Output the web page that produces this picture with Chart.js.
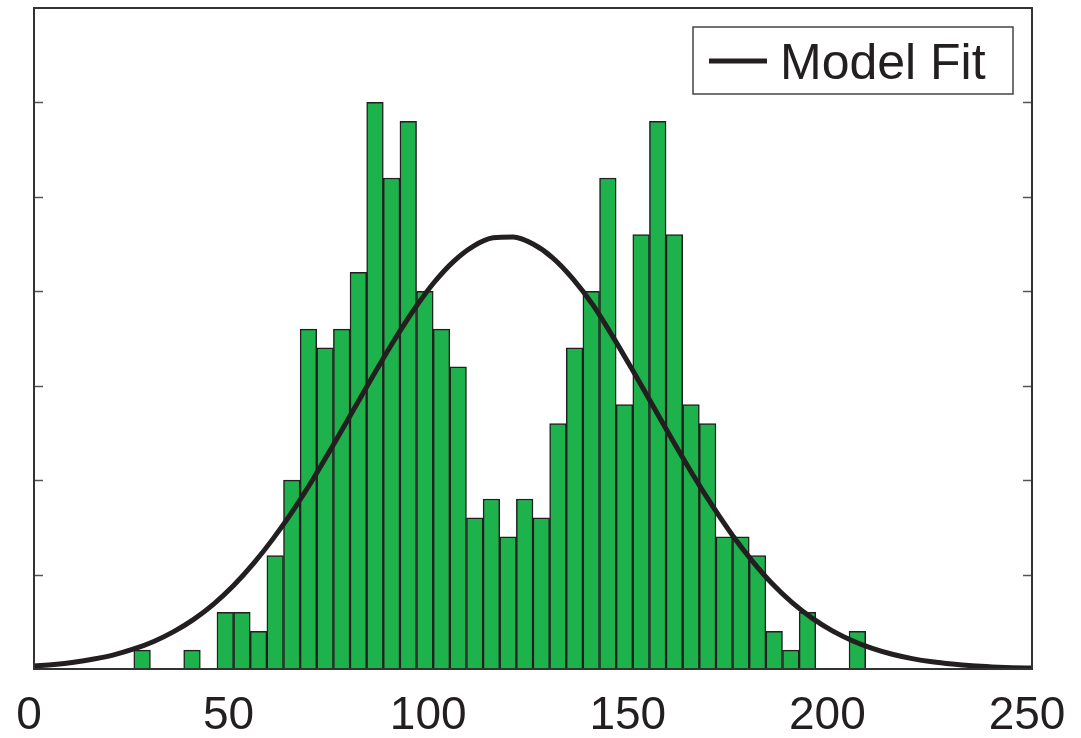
<!DOCTYPE html>
<html>
<head>
<meta charset="utf-8">
<script src="https://cdn.jsdelivr.net/npm/chart.js@4/dist/chart.umd.min.js"></script>
<style>
  html, body { margin: 0; padding: 0; background: #fff; }
  #wrap { width: 1081px; height: 738px; }
</style>
</head>
<body>
<div id="wrap"><canvas id="histChart" width="1081" height="738"></canvas></div>
<script>
// Histogram: 60 bins over 0..250
var histMin = 0;
var histMax = 250;
var binCounts = [
  0, 0, 0, 0, 0, 0, 1, 0, 0, 1,
  0, 3, 3, 2, 6, 10, 18, 17, 18, 21,
  30, 26, 29, 20, 18, 16, 8, 9, 7, 9,
  8, 13, 17, 20, 26, 14, 23, 29, 23, 14,
  13, 7, 7, 6, 2, 1, 3, 0, 0, 2,
  0, 0, 0, 0, 0, 0, 0, 0, 0, 0
];

// Fitted curve, sampled every 5 units from 0 to 250
var fitStep = 5;
var fitY = [
  0.16, 0.24, 0.36, 0.53, 0.75, 1.06, 1.46, 1.98, 2.63, 3.44,
  4.42, 5.59, 6.93, 8.43, 10.09, 11.87, 13.71, 15.55, 17.33, 18.97,
  20.41, 21.56, 22.38, 22.83, 22.87, 22.50, 21.76, 20.66, 19.28, 17.60,
  15.80, 13.95, 12.10, 10.30, 8.62, 7.07, 5.70, 4.50, 3.50, 2.68,
  2.02, 1.50, 1.09, 0.78, 0.55, 0.38, 0.26, 0.17, 0.11, 0.07,
  0.05
];

var yTicks = [5, 10, 15, 20, 25, 30];
var yMax = 35;

var binWidth = (histMax - histMin) / binCounts.length;
var barPoints = binCounts.map(function(c, i) {
  return { x: histMin + (i + 0.5) * binWidth, y: c };
});
var fitPoints = fitY.map(function(v, i) {
  return { x: histMin + i * fitStep, y: v };
});

var ink = '#231f20';

// Box around the plot with inward ticks on both sides
var framePlugin = {
  id: 'frame',
  afterDatasetsDraw: function(chart) {
    var ctx = chart.ctx;
    var a = chart.chartArea;
    var y = chart.scales.y;
    ctx.save();
    ctx.strokeStyle = '#555';
    ctx.lineWidth = 1.5;
    yTicks.forEach(function(t) {
      var py = Math.round(y.getPixelForValue(t)) + 0.5;
      ctx.beginPath();
      ctx.moveTo(a.left, py);
      ctx.lineTo(a.left + 9, py);
      ctx.moveTo(a.right, py);
      ctx.lineTo(a.right - 9, py);
      ctx.stroke();
    });
    ctx.strokeStyle = '#333';
    ctx.lineWidth = 2;
    ctx.strokeRect(a.left, a.top, a.right - a.left, a.bottom - a.top);
    ctx.restore();
  }
};

// Boxed legend in the upper right corner
var boxLegend = {
  id: 'boxLegend',
  afterDraw: function(chart) {
    var ctx = chart.ctx;
    var a = chart.chartArea;
    var ds = chart.data.datasets[0];
    var w = 320, h = 67;
    var x0 = a.right - 19 - w;
    var y0 = a.top + 19;
    ctx.save();
    ctx.fillStyle = '#fff';
    ctx.fillRect(x0, y0, w, h);
    ctx.strokeStyle = '#444';
    ctx.lineWidth = 1.5;
    ctx.strokeRect(x0, y0, w, h);
    ctx.strokeStyle = ds.borderColor;
    ctx.lineWidth = ds.borderWidth;
    ctx.beginPath();
    ctx.moveTo(x0 + 16, y0 + 34);
    ctx.lineTo(x0 + 74, y0 + 34);
    ctx.stroke();
    ctx.fillStyle = ink;
    ctx.font = '50px "Liberation Sans", Arial, sans-serif';
    ctx.textBaseline = 'alphabetic';
    ctx.fillText(ds.label, x0 + 87, y0 + 52);
    ctx.restore();
  }
};

var ctx = document.getElementById('histChart').getContext('2d');
var histChart = new Chart(ctx, {
  type: 'bar',
  data: {
    datasets: [{
      type: 'line',
      label: 'Model Fit',
      data: fitPoints,
      borderColor: ink,
      borderWidth: 5,
      pointRadius: 0,
      fill: false,
      cubicInterpolationMode: 'monotone',
      order: 1
    }, {
      type: 'bar',
      label: 'Counts',
      data: barPoints,
      backgroundColor: '#1db24b',
      borderColor: ink,
      borderWidth: 1.5,
      barPercentage: 1,
      categoryPercentage: 1,
      order: 2
    }]
  },
  options: {
    responsive: false,
    animation: false,
    layout: { padding: { left: 34, right: 49, top: 8, bottom: 0 } },
    plugins: {
      legend: { display: false },
      tooltip: { enabled: false }
    },
    scales: {
      x: {
        type: 'linear',
        offset: false,
        min: histMin,
        max: histMax,
        afterFit: function(scale) {
          scale.height = 69;
          // edge labels fit inside the layout padding already
          scale.paddingLeft = 0;
          scale.paddingRight = 0;
        },
        grid: { display: false, drawTicks: false },
        border: { display: false },
        ticks: {
          stepSize: 50,
          padding: 24,
          labelOffset: -5,
          color: ink,
          font: { family: '"Liberation Sans", Arial, sans-serif', size: 46, lineHeight: 1 }
        }
      },
      y: {
        display: false,
        min: 0,
        max: yMax
      }
    }
  },
  plugins: [framePlugin, boxLegend]
});
</script>
</body>
</html>
